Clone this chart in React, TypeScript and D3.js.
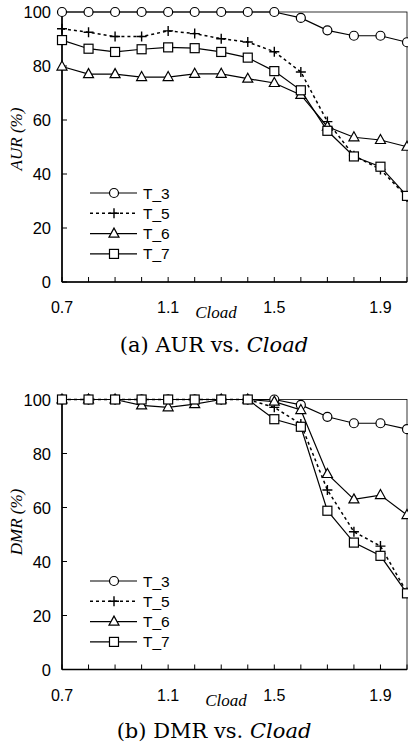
import React, { useEffect, useRef } from 'react';
import * as d3 from 'd3';

const cload = [0.7, 0.8, 0.9, 1.0, 1.1, 1.2, 1.3, 1.4, 1.5, 1.6, 1.7, 1.8, 1.9, 2.0];
const xTickLabels = [0.7, 1.1, 1.5, 1.9];
const yTicks = [0, 20, 40, 60, 80, 100];
const seriesNames = ['T_3', 'T_5', 'T_6', 'T_7'];

// AUR (%)
const aurT3 = [100, 100, 100, 100, 100, 100, 100, 100, 100, 97.8, 93.2, 91.2, 91.2, 88.8];
const aurT5 = [93.8, 92.5, 90.9, 90.9, 93, 92, 90.1, 88.9, 85.3, 77.8, 59.4, 46.8, 41.7, 31.5];
const aurT6 = [79.8, 77, 77, 75.9, 75.9, 77.1, 77.1, 75.3, 73.7, 69.3, 57.5, 53.6, 52.6, 50.1];
const aurT7 = [89.6, 86.4, 85.2, 86.2, 86.9, 86.6, 85.2, 83.1, 78.1, 71, 56, 46.5, 42.7, 31.9];

// DMR (%)
const dmrT3 = [100, 100, 100, 100, 100, 100, 100, 100, 100, 98, 93.6, 91.2, 91.2, 89];
const dmrT5 = [100, 100, 100, 100, 100, 100, 100, 100, 97.1, 90.9, 66.5, 51, 45.7, 28.5];
const dmrT6 = [100, 100, 100, 97.8, 97.1, 98.3, 100, 100, 99.2, 96.1, 72.4, 63, 64.6, 57.2];
const dmrT7 = [100, 100, 100, 100, 100, 100, 100, 100, 92.7, 89.9, 58.8, 47, 42.1, 28.2];

const markers = ['circle', 'plus', 'triangle', 'square'];

const SANS = "'Liberation Sans', Arial, sans-serif";
const SERIF = "'Liberation Serif', 'Times New Roman', serif";

type Panel = {
  top: number;
  bottom: number;
  yLabel: string;
  yLabelY: number;
  cloadX: number;
  captionY: number;
  captionPrefix: string;
  series: number[][];
  legendY: number;
};

const App = () => {
  const ref = useRef<SVGSVGElement>(null);

  useEffect(() => {
    const svg = d3.select(ref.current);
    svg.selectAll('*').remove();

    const panels: Panel[] = [
      { top: 12, bottom: 282, yLabel: 'AUR (%)', yLabelY: 139, cloadX: 216, captionY: 352,
        captionPrefix: '(a) AUR vs. ', series: [aurT3, aurT5, aurT6, aurT7], legendY: 193 },
      { top: 399.5, bottom: 669.5, yLabel: 'DMR (%)', yLabelY: 522, cloadX: 226, captionY: 738,
        captionPrefix: '(b) DMR vs. ', series: [dmrT3, dmrT5, dmrT6, dmrT7], legendY: 581 },
    ];

    const x = d3.scaleLinear().domain([0.7, 2.0]).range([62, 407]);

    const drawMarker = (g: any, type: string, cx: number, cy: number) => {
      if (type === 'circle') {
        g.append('circle').attr('cx', cx).attr('cy', cy).attr('r', 4.5)
          .attr('fill', 'white').attr('stroke', 'black').attr('stroke-width', 1.2);
      } else if (type === 'square') {
        g.append('rect').attr('x', cx - 4.5).attr('y', cy - 4.5).attr('width', 9).attr('height', 9)
          .attr('fill', 'white').attr('stroke', 'black').attr('stroke-width', 1.2);
      } else if (type === 'triangle') {
        g.append('path').attr('d', `M${cx},${cy - 5.5}L${cx + 5},${cy + 3.5}L${cx - 5},${cy + 3.5}Z`)
          .attr('fill', 'white').attr('stroke', 'black').attr('stroke-width', 1.2);
      } else {
        g.append('path').attr('d', `M${cx - 5},${cy}H${cx + 5}M${cx},${cy - 5}V${cy + 5}`)
          .attr('stroke', 'black').attr('stroke-width', 1.4);
      }
    };

    panels.forEach((p) => {
      const y = d3.scaleLinear().domain([0, 100]).range([p.bottom, p.top]);
      const g = svg.append('g');

      // marco
      g.append('rect').attr('x', x(0.7)).attr('y', y(100))
        .attr('width', x(2.0) - x(0.7)).attr('height', y(0) - y(100))
        .attr('fill', 'none').attr('stroke', 'black').attr('stroke-width', 0.8);
      g.append('line').attr('x1', x(0.7)).attr('x2', x(2.0)).attr('y1', y(0)).attr('y2', y(0))
        .attr('stroke', 'black').attr('stroke-width', 1.6);
      g.append('line').attr('x1', x(0.7)).attr('x2', x(0.7)).attr('y1', y(0)).attr('y2', y(100))
        .attr('stroke', 'black').attr('stroke-width', 1.6);

      // ticks hacia dentro
      cload.forEach((c) => {
        g.append('line').attr('x1', x(c)).attr('x2', x(c)).attr('y1', y(0)).attr('y2', y(0) - 5)
          .attr('stroke', 'black').attr('stroke-width', 1);
      });
      yTicks.forEach((v) => {
        g.append('line').attr('x1', x(0.7)).attr('x2', x(0.7) + 5).attr('y1', y(v)).attr('y2', y(v))
          .attr('stroke', 'black').attr('stroke-width', 1);
      });
      xTickLabels.forEach((c) => {
        g.append('text').attr('x', x(c)).attr('y', y(0) + 31)
          .attr('text-anchor', 'middle').style('font-family', SANS)
          .style('font-size', '16px').text(c.toFixed(1));
      });
      yTicks.forEach((v) => {
        g.append('text').attr('x', 51).attr('y', y(v) + 6)
          .attr('text-anchor', 'end').style('font-family', SANS)
          .style('font-size', '16.5px').text(v);
      });

      // etiquetas
      g.append('text').attr('transform', `translate(22,${p.yLabelY}) rotate(-90)`)
        .attr('text-anchor', 'middle').style('font-family', SERIF)
        .style('font-style', 'italic').style('font-size', '17px').text(p.yLabel);
      g.append('text').attr('x', p.cloadX).attr('y', y(0) + 36)
        .attr('text-anchor', 'middle').style('font-family', SERIF)
        .style('font-style', 'italic').style('font-size', '17px').text('Cload');
      const cap = g.append('text').attr('x', 214).attr('y', p.captionY)
        .attr('text-anchor', 'middle').style('font-family', "'DejaVu Serif', serif")
        .style('font-size', '21px');
      cap.append('tspan').text(p.captionPrefix);
      cap.append('tspan').style('font-style', 'italic').text('Cload');

      // series
      p.series.forEach((vals, i) => {
        const line = d3.line<number>().x((d, j) => x(cload[j])).y((d) => y(d));
        g.append('path').datum(vals).attr('d', line).attr('fill', 'none')
          .attr('stroke', 'black').attr('stroke-width', i === 1 ? 1.5 : 1.2)
          .attr('stroke-dasharray', i === 1 ? '3,3' : null);
      });
      p.series.forEach((vals, i) => {
        vals.forEach((v, j) => drawMarker(g, markers[i], x(cload[j]), y(v)));
      });

      // leyenda
      seriesNames.forEach((name, i) => {
        const ly = p.legendY + i * 20.3;
        g.append('line').attr('x1', 90).attr('x2', 137).attr('y1', ly).attr('y2', ly)
          .attr('stroke', 'black').attr('stroke-width', i === 1 ? 1.5 : 1.2)
          .attr('stroke-dasharray', i === 1 ? '3,3' : null);
        drawMarker(g, markers[i], 114, ly);
        g.append('text').attr('x', 143).attr('y', ly + 5.5)
          .style('font-family', SANS)
          .style('font-size', '15.5px').text(name);
      });
    });
  }, []);

  return (
    <svg ref={ref} width={408} height={749}
      style={{ position: 'absolute', left: 0, top: 0, background: 'white' }} />
  );
};

export default App;
